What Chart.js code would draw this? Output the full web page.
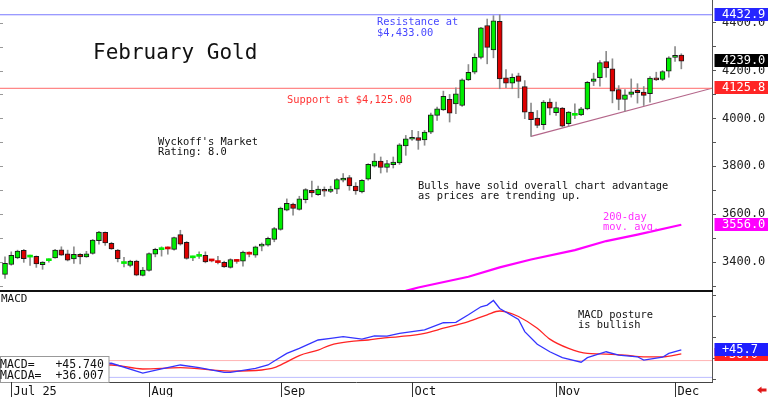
<!DOCTYPE html>
<html>
<head>
<meta charset="utf-8">
<script src="https://cdn.jsdelivr.net/npm/chart.js@4.4.0/dist/chart.umd.min.js"></script>
<style>
  html, body { margin: 0; padding: 0; background: #fff; }
  #wrap { position: relative; width: 768px; height: 397px; overflow: hidden; background: #fff; }
  #priceChart { position: absolute; left: 0; top: 0; }
  #macdChart { position: absolute; left: 0; top: 290px; }
</style>
</head>
<body>
<div id="wrap">
  <canvas id="priceChart" width="768" height="290"></canvas>
  <canvas id="macdChart" width="768" height="107"></canvas>
</div>
<script>
// February gold, daily bars Jun 30 - Dec 2
const opens = [
  3349, 3390, 3418, 3449, 3421, 3424, 3389, 3406, 3418, 3451,
  3435, 3413, 3433, 3422, 3436, 3490, 3524, 3478, 3450, 3394,
  3386, 3404, 3345, 3365, 3433, 3452, 3457, 3453, 3515, 3483,
  3418, 3424, 3428, 3409, 3400, 3399, 3378, 3406, 3404, 3435,
  3429, 3467, 3471, 3495, 3537, 3617, 3642, 3620, 3661, 3700,
  3682, 3703, 3695, 3705, 3742, 3753, 3717, 3693, 3746, 3801,
  3822, 3795, 3807, 3814, 3885, 3913, 3920, 3910, 3943, 4013,
  4036, 4080, 4061, 4054, 4161, 4193, 4255, 4388, 4286, 4405,
  4170, 4147, 4178, 4133, 4026, 4001, 3974, 4068, 4024, 4043,
  3978, 4013, 4015, 4040, 4155, 4170, 4237, 4207, 4120, 4079,
  4100, 4117, 4110, 4103, 4168, 4163, 4197, 4255, 4265
];
const highs = [
  3422, 3443, 3450, 3453, 3429, 3426, 3402, 3414, 3453, 3464,
  3450, 3464, 3436, 3445, 3495, 3529, 3526, 3483, 3453, 3420,
  3408, 3408, 3378, 3439, 3458, 3464, 3464, 3505, 3533, 3486,
  3425, 3443, 3443, 3411, 3424, 3404, 3414, 3411, 3446, 3443,
  3467, 3480, 3505, 3545, 3630, 3664, 3647, 3675, 3707, 3738,
  3717, 3714, 3717, 3749, 3770, 3762, 3732, 3745, 3811, 3853,
  3839, 3825, 3839, 3895, 3929, 3950, 3946, 3950, 4022, 4047,
  4114, 4100, 4128, 4165, 4225, 4270, 4380, 4415, 4429, 4433,
  4204, 4186, 4189, 4158, 4064, 4033, 4075, 4082, 4068, 4046,
  4029, 4061, 4046, 4155, 4189, 4242, 4280, 4249, 4137, 4120,
  4165, 4145, 4133, 4175, 4193, 4200, 4258, 4300, 4270
];
const lows = [
  3332, 3387, 3414, 3399, 3386, 3378, 3370, 3400, 3416, 3428,
  3405, 3395, 3392, 3420, 3433, 3475, 3470, 3453, 3401, 3380,
  3380, 3343, 3342, 3362, 3422, 3425, 3433, 3450, 3471, 3412,
  3406, 3415, 3397, 3401, 3392, 3378, 3375, 3395, 3383, 3422,
  3420, 3447, 3467, 3485, 3533, 3614, 3596, 3617, 3647, 3672,
  3679, 3675, 3690, 3686, 3735, 3700, 3683, 3689, 3742, 3797,
  3772, 3776, 3793, 3808, 3846, 3908, 3871, 3888, 3936, 3992,
  4033, 3985, 4020, 4050, 4158, 4186, 4249, 4228, 4253, 4124,
  4128, 4124, 4086, 3999, 3925, 3961, 3954, 4015, 4013, 3964,
  3967, 3999, 4011, 4036, 4137, 4135, 4172, 4065, 4036, 4030,
  4089, 4064, 4054, 4068, 4158, 4158, 4172, 4238, 4207
];
const closes = [
  3395, 3428, 3446, 3414, 3424, 3392, 3400, 3409, 3450, 3429,
  3408, 3433, 3422, 3435, 3492, 3525, 3480, 3455, 3414, 3397,
  3404, 3346, 3367, 3436, 3453, 3454, 3455, 3503, 3475, 3415,
  3420, 3426, 3401, 3405, 3398, 3380, 3411, 3403, 3442, 3433,
  3464, 3475, 3499, 3540, 3626, 3645, 3624, 3664, 3703, 3689,
  3705, 3696, 3705, 3745, 3751, 3718, 3697, 3742, 3808, 3822,
  3795, 3811, 3818, 3890, 3915, 3920, 3908, 3943, 4015, 4040,
  4092, 4022, 4103, 4161, 4193, 4255, 4378, 4297, 4408, 4165,
  4147, 4172, 4155, 4026, 3995, 3971, 4068, 4043, 4045, 3968,
  4026, 4016, 4040, 4151, 4165, 4233, 4211, 4114, 4079, 4099,
  4111, 4108, 4096, 4168, 4161, 4196, 4253, 4262, 4239
];

// 200-day moving average (day index, value)
const maDays = [64, 66, 74, 79, 84, 91, 96, 101, 108];
const maVals = [3280, 3294, 3339, 3378, 3411, 3450, 3488, 3515, 3556];

// chart levels
const resistance = 4432.9;
const support = 4125.8;
const trendDays = [84, 112.9];
const trendVals = [3925, 4126];

// MACD (blue) and MACDA (red)
const macdDays = [0, 8, 17, 22, 25, 28, 31, 35, 36, 40, 42, 43, 45, 47, 50, 52, 54, 57, 59, 61, 63, 65, 67, 70, 72, 74, 76, 77, 78, 79, 82, 83, 85, 87, 89, 92, 93, 96, 98, 101, 102, 105, 106, 108];
const macdVals = [12, 8, 13.6, -10, 0, 9.5, 3, -8, -8, 1.6, 9.5, 19, 37, 49, 69, 73, 77, 71, 79, 78, 85, 89, 93, 110, 111, 129, 148, 152, 163, 144, 118, 89, 59, 41, 27, 16, 27, 41, 33, 29, 21, 28, 37, 45.74];
const sigDays = [0, 8, 17, 22, 28, 36, 41, 43, 45, 47, 50, 52, 55, 58, 60, 63, 67, 70, 74, 77, 79, 80, 82, 85, 87, 90, 93, 95, 99, 102, 105, 108];
const sigVals = [9, 9, 9.5, 0, 3, -5, -2.4, 3, 17, 32, 45, 57, 65, 69, 73, 77, 85, 97, 113, 129, 138, 136, 125, 97, 71, 49, 37, 36, 33, 29, 29, 36.007];
const macdBands = [20, -20];

// axis ticks
const priceTicks = [3300, 3400, 3500, 3600, 3700, 3800, 3900, 4000, 4100, 4200, 4300, 4400];
const macdTicks = [-25, 0, 25, 50, 75, 100, 125, 150, 175];
const monthLabels = ['Jul 25', 'Aug', 'Sep', 'Oct', 'Nov', 'Dec'];
const monthDays = [1, 23, 44, 65, 88, 107];

const MONO = '"DejaVu Sans Mono", monospace';
const X_MIN = -0.8, X_MAX = 112.9;
Chart.defaults.font.family = MONO;

const pts = (xs, ys) => xs.map((x, i) => ({ x: x, y: ys[i] }));
const flat = v => [{ x: X_MIN, y: v }, { x: X_MAX, y: v }];
const isUp = i => closes[i] >= opens[i];

function fixAxisWidth(scale) {
    scale.width = 56;
    scale.paddingTop = 0;
    scale.paddingBottom = 0;
}

function valueBox(ctx, y, bg, text, x, align) {
    ctx.fillStyle = bg;
    ctx.fillRect(714.5, Math.round(y) - 7, 54, 13);
    ctx.fillStyle = '#fff';
    ctx.textAlign = align;
    ctx.textBaseline = 'middle';
    ctx.fillText(text, x, Math.round(y));
}

// Price panel text and right-hand value boxes
const priceNotes = {
    id: 'priceNotes',
    afterDraw(chart) {
        const ctx = chart.ctx;
        const ys = chart.scales.y;
        ctx.save();
        ctx.textAlign = 'left';
        ctx.textBaseline = 'alphabetic';
        ctx.fillStyle = '#111';
        ctx.font = '21px ' + MONO;
        ctx.fillText('February Gold', 93, 59);
        ctx.font = '10.4px ' + MONO;
        ctx.fillText("Wyckoff's Market", 158, 144.5);
        ctx.fillText('Rating: 8.0', 158, 155);
        ctx.fillText('Bulls have solid overall chart advantage', 418, 188.8);
        ctx.fillText('as prices are trending up.', 418, 199.3);
        ctx.fillStyle = '#4848ff';
        ctx.fillText('Resistance at', 377, 25);
        ctx.fillText('$4,433.00', 377, 35.5);
        ctx.fillStyle = '#ff3434';
        ctx.fillText('Support at $4,125.00', 287, 102.5);
        ctx.fillStyle = '#ff30ff';
        ctx.fillText('200-day', 603, 219.5);
        ctx.fillText('mov. avg.', 603, 230);

        // small ticks on the left edge
        ctx.strokeStyle = '#999';
        ctx.lineWidth = 1;
        priceTicks.forEach(v => {
            const y = Math.round(ys.getPixelForValue(v)) + 0.5;
            ctx.beginPath(); ctx.moveTo(0, y); ctx.lineTo(3, y); ctx.stroke();
        });

        ctx.font = '12px ' + MONO;
        const last = closes[closes.length - 1];
        const maLast = maVals[maVals.length - 1];
        valueBox(ctx, ys.getPixelForValue(resistance), '#2626ff', resistance.toFixed(1), 722, 'left');
        valueBox(ctx, ys.getPixelForValue(last), '#000', last.toFixed(1), 722, 'left');
        valueBox(ctx, ys.getPixelForValue(support), '#ff2626', support.toFixed(1), 722, 'left');
        valueBox(ctx, ys.getPixelForValue(maLast), '#ff00ff', maLast.toFixed(1), 722, 'left');
        ctx.restore();
    }
};

// MACD panel text, legend box, month axis
const macdNotes = {
    id: 'macdNotes',
    afterDraw(chart) {
        const ctx = chart.ctx;
        const xs = chart.scales.x;
        const ys = chart.scales.y;
        const area = chart.chartArea;
        ctx.save();
        // separator and bottom border
        ctx.fillStyle = '#111';
        ctx.fillRect(0, 0, 713, 2);
        ctx.strokeStyle = '#444';
        ctx.lineWidth = 1;
        ctx.beginPath(); ctx.moveTo(0, area.bottom + 0.5); ctx.lineTo(713, area.bottom + 0.5); ctx.stroke();

        ctx.textAlign = 'left';
        ctx.textBaseline = 'alphabetic';
        ctx.fillStyle = '#111';
        ctx.font = '11px ' + MONO;
        ctx.fillText('MACD', 1, 11.5);
        ctx.font = '10.4px ' + MONO;
        ctx.fillText('MACD posture', 578, 27.5);
        ctx.fillText('is bullish', 578, 38);

        // legend box
        ctx.fillStyle = '#fff';
        ctx.fillRect(0, 66.5, 109, 26);
        ctx.strokeStyle = '#999';
        ctx.strokeRect(0.5, 66.5, 108.5, 26);
        ctx.fillStyle = '#111';
        ctx.font = '11.5px ' + MONO;
        const mLast = macdVals[macdVals.length - 1];
        const sLast = sigVals[sigVals.length - 1];
        ctx.fillText('MACD=   +' + mLast.toFixed(3), 0, 78.3);
        ctx.fillText('MACDA=  +' + sLast.toFixed(3), 0, 89.3);

        // month ticks and labels
        ctx.font = '12px ' + MONO;
        ctx.strokeStyle = '#333';
        monthDays.forEach((d, i) => {
            const x = Math.round(xs.getPixelForValue(d)) + 0.5;
            ctx.beginPath(); ctx.moveTo(x, area.bottom); ctx.lineTo(x, 107); ctx.stroke();
            ctx.fillStyle = '#111';
            ctx.fillText(monthLabels[i], x + 2, 105);
        });

        // value boxes
        ctx.font = '12px ' + MONO;
        valueBox(ctx, ys.getPixelForValue(sLast) + 1, '#ff2020', '+' + sLast.toFixed(1), 758, 'right');
        valueBox(ctx, ys.getPixelForValue(mLast), '#1e1eff', '+' + mLast.toFixed(1), 758, 'right');

        // little red arrow bottom right
        ctx.fillStyle = '#e01818';
        ctx.beginPath();
        ctx.moveTo(757, 100); ctx.lineTo(761.5, 96.5); ctx.lineTo(761.5, 103.5); ctx.closePath();
        ctx.fill();
        ctx.fillRect(761, 98.5, 5.5, 3);
        ctx.restore();
    }
};

// Price chart
new Chart(document.getElementById('priceChart').getContext('2d'), {
    data: {
        datasets: [{
            type: 'bar',
            data: opens.map((o, i) => ({ x: i, y: [o, closes[i]] })),
            backgroundColor: ctx => isUp(ctx.dataIndex) ? '#00ee00' : '#dd0000',
            borderColor: '#1a1a1a',
            borderWidth: ctx => Math.abs(closes[ctx.dataIndex] - opens[ctx.dataIndex]) < 5 ? 0 : 1,
            borderSkipped: false,
            barThickness: 5,
            minBarLength: 2,
            grouped: false,
            order: 0
        }, {
            type: 'bar',
            data: lows.map((l, i) => ({ x: i, y: [l, highs[i]] })),
            backgroundColor: '#8c8c8c',
            borderWidth: 0,
            barThickness: 1,
            grouped: false,
            order: 1
        }, {
            type: 'line',
            data: pts(maDays, maVals),
            borderColor: '#ff00ff',
            borderWidth: 2.2,
            pointRadius: 0,
            order: 2
        }, {
            type: 'line',
            data: flat(resistance),
            borderColor: '#7878ff',
            borderWidth: 1,
            pointRadius: 0,
            order: 2
        }, {
            type: 'line',
            data: flat(support),
            borderColor: '#ff6a6a',
            borderWidth: 1,
            pointRadius: 0,
            order: 2
        }, {
            type: 'line',
            data: pts(trendDays, trendVals),
            borderColor: '#b4668a',
            borderWidth: 1.2,
            pointRadius: 0,
            order: 2
        }]
    },
    options: {
        responsive: false,
        animation: false,
        events: [],
        layout: { padding: 0 },
        plugins: {
            legend: { display: false },
            tooltip: { enabled: false }
        },
        scales: {
            x: { type: 'linear', min: X_MIN, max: X_MAX, offset: false, display: false },
            y: {
                position: 'right',
                min: 3283.6,
                max: 4494.5,
                afterBuildTicks: s => { s.ticks = priceTicks.map(v => ({ value: v })); },
                afterFit: fixAxisWidth,
                grid: { drawOnChartArea: false, tickLength: 4, color: '#555' },
                border: { display: true, color: '#555' },
                ticks: {
                    padding: 6,
                    color: '#222',
                    font: { family: MONO, size: 12 },
                    callback: v => v % 200 === 0 ? v.toFixed(1) : ''
                }
            }
        }
    },
    plugins: [priceNotes]
});

// MACD chart
new Chart(document.getElementById('macdChart').getContext('2d'), {
    type: 'line',
    data: {
        datasets: [{
            data: pts(macdDays, macdVals),
            borderColor: '#3434ff',
            borderWidth: 1.3,
            pointRadius: 0
        }, {
            data: pts(sigDays, sigVals),
            borderColor: '#ff2424',
            borderWidth: 1.3,
            pointRadius: 0,
            cubicInterpolationMode: 'monotone'
        }, {
            data: flat(macdBands[0]),
            borderColor: '#ffb4b4',
            borderWidth: 1,
            pointRadius: 0
        }, {
            data: flat(macdBands[1]),
            borderColor: '#bcbcff',
            borderWidth: 1,
            pointRadius: 0
        }]
    },
    options: {
        responsive: false,
        animation: false,
        events: [],
        layout: { padding: { bottom: 15 } },
        plugins: {
            legend: { display: false },
            tooltip: { enabled: false }
        },
        scales: {
            x: { type: 'linear', min: X_MIN, max: X_MAX, offset: false, display: false },
            y: {
                position: 'right',
                min: -31,
                max: 188,
                afterBuildTicks: s => { s.ticks = macdTicks.map(v => ({ value: v })); },
                afterFit: fixAxisWidth,
                grid: { drawOnChartArea: false, tickLength: 4, color: '#555' },
                border: { display: true, color: '#555' },
                ticks: {
                    padding: -1,
                    crossAlign: 'far',
                    color: '#222',
                    font: { family: MONO, size: 12 },
                    callback: v => v % 50 === 0 ? (v > 0 ? '+' : '') + v.toFixed(1) : ''
                }
            }
        }
    },
    plugins: [macdNotes]
});
</script>
</body>
</html>
